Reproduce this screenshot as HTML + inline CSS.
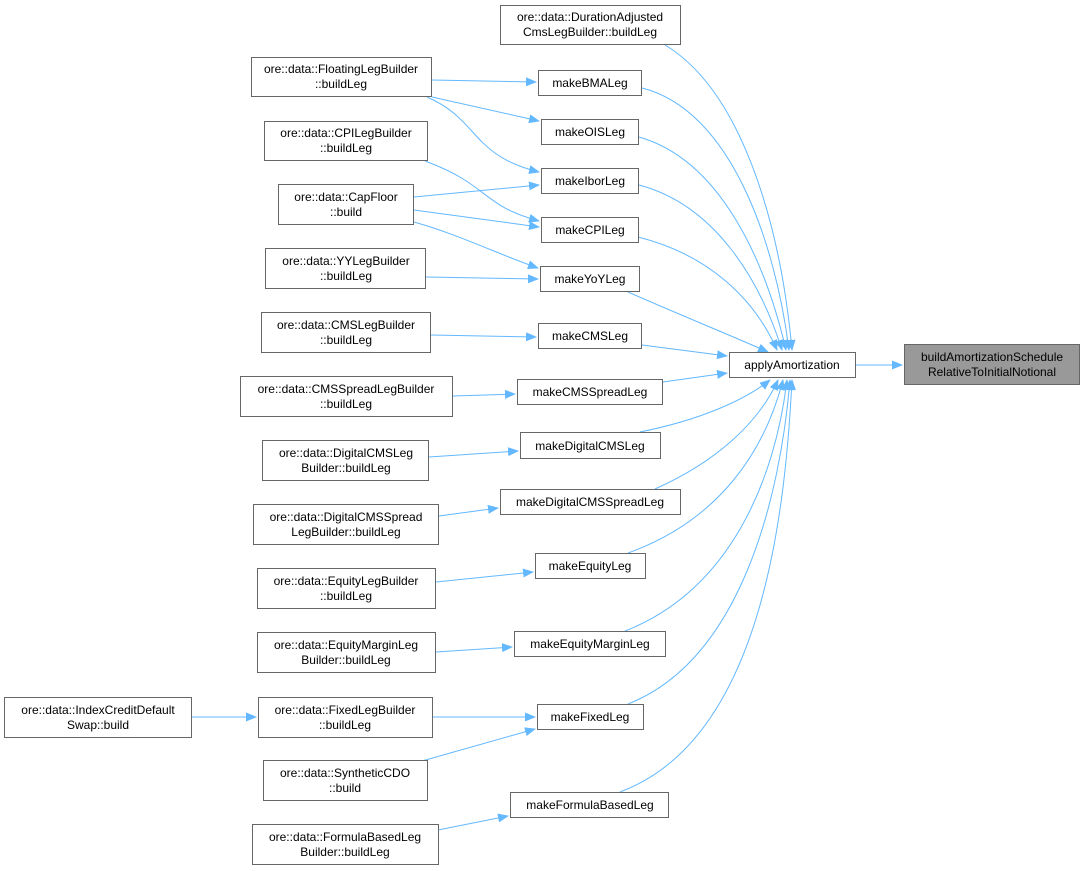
<!DOCTYPE html>
<html><head><meta charset="utf-8"><style>
html,body{margin:0;padding:0;background:#fff;}
svg{display:block;}
text{font-family:"Liberation Sans",Arial,sans-serif;font-size:12px;fill:#000;}
.n{fill:#fff;stroke:#666;stroke-width:1;}
.e{fill:none;stroke:#63b8ff;stroke-width:1;}
</style></head><body>
<svg width="1085" height="871" viewBox="0 0 1085 871" xmlns="http://www.w3.org/2000/svg">
<defs><marker id="a" markerWidth="11" markerHeight="9" refX="10" refY="4.5" orient="auto" markerUnits="userSpaceOnUse"><polygon points="0,0 11,4.5 0,9" fill="#63b8ff"/></marker></defs>
<g class="e" marker-end="url(#a)">
<path d="M856,365 L902,365"/>
<path d="M665,45 C740,90 780,220 792,350"/>
<path d="M642,88 C730,110 775,240 789,350"/>
<path d="M639,137 C720,160 765,260 786,350"/>
<path d="M639,185 C715,205 760,280 782,350"/>
<path d="M638,237 C710,255 755,300 777,350"/>
<path d="M628,292 C680,315 730,335 768,352"/>
<path d="M642,345 L727,356"/>
<path d="M663,382 L727,373"/>
<path d="M640,432 C700,420 745,400 770,380"/>
<path d="M655,489 C720,460 760,420 778,380"/>
<path d="M628,553 C720,520 765,450 783,380"/>
<path d="M625,631 C730,590 775,480 787,380"/>
<path d="M628,704 C740,660 780,500 790,380"/>
<path d="M620,792 C760,740 785,520 792,380"/>
<path d="M432,80 L536,82"/>
<path d="M432,97 L539,121"/>
<path d="M427,97 C480,120 470,155 539,172"/>
<path d="M425,161 C490,185 480,205 539,221"/>
<path d="M414,197 L539,185"/>
<path d="M414,210 L539,227"/>
<path d="M414,222 C460,235 500,255 538,268"/>
<path d="M426,277 L538,279"/>
<path d="M431,335 L536,337"/>
<path d="M453,396 L515,394"/>
<path d="M429,457 L518,451"/>
<path d="M439,516 L498,508"/>
<path d="M436,582 L533,572"/>
<path d="M436,652 L512,647"/>
<path d="M432,717 L535,717"/>
<path d="M422,761 L535,729"/>
<path d="M438,830 L508,816"/>
<path d="M191,717 L256,717"/>
</g>
<rect x="904.5" y="344.5" width="175" height="40" fill="#999" stroke="#666"/>
<text x="992" y="361" text-anchor="middle">buildAmortizationSchedule</text>
<text x="992" y="376" text-anchor="middle">RelativeToInitialNotional</text>
<rect class="n" x="729.5" y="352.5" width="126" height="25"/><text x="792" y="369" text-anchor="middle">applyAmortization</text>
<rect class="n" x="500.5" y="5.5" width="180" height="39"/><text x="590" y="21" text-anchor="middle">ore::data::DurationAdjusted</text><text x="590" y="36" text-anchor="middle">CmsLegBuilder::buildLeg</text>
<rect class="n" x="538.5" y="70.5" width="103" height="25"/><text x="590" y="87" text-anchor="middle">makeBMALeg</text>
<rect class="n" x="541.5" y="119.5" width="97" height="25"/><text x="590" y="136" text-anchor="middle">makeOISLeg</text>
<rect class="n" x="541.5" y="168.5" width="97" height="25"/><text x="590" y="185" text-anchor="middle">makeIborLeg</text>
<rect class="n" x="541.5" y="217.5" width="97" height="25"/><text x="590" y="234" text-anchor="middle">makeCPILeg</text>
<rect class="n" x="540.5" y="266.5" width="99" height="25"/><text x="590" y="283" text-anchor="middle">makeYoYLeg</text>
<rect class="n" x="538.5" y="323.5" width="103" height="25"/><text x="590" y="340" text-anchor="middle">makeCMSLeg</text>
<rect class="n" x="517.5" y="379.5" width="145" height="25"/><text x="590" y="396" text-anchor="middle">makeCMSSpreadLeg</text>
<rect class="n" x="520.5" y="432.5" width="140" height="26"/><text x="590" y="450" text-anchor="middle">makeDigitalCMSLeg</text>
<rect class="n" x="500.5" y="489.5" width="180" height="25"/><text x="590" y="506" text-anchor="middle">makeDigitalCMSSpreadLeg</text>
<rect class="n" x="535.5" y="553.5" width="110" height="25"/><text x="590" y="570" text-anchor="middle">makeEquityLeg</text>
<rect class="n" x="514.5" y="631.5" width="151" height="25"/><text x="590" y="648" text-anchor="middle">makeEquityMarginLeg</text>
<rect class="n" x="537.5" y="704.5" width="106" height="25"/><text x="590" y="721" text-anchor="middle">makeFixedLeg</text>
<rect class="n" x="510.5" y="792.5" width="158" height="25"/><text x="590" y="809" text-anchor="middle">makeFormulaBasedLeg</text>
<rect class="n" x="251.5" y="57.5" width="180" height="39"/><text x="341" y="73" text-anchor="middle">ore::data::FloatingLegBuilder</text><text x="341" y="88" text-anchor="middle">::buildLeg</text>
<rect class="n" x="264.5" y="121.5" width="163" height="39"/><text x="346" y="137" text-anchor="middle">ore::data::CPILegBuilder</text><text x="346" y="152" text-anchor="middle">::buildLeg</text>
<rect class="n" x="278.5" y="184.5" width="135" height="40"/><text x="346" y="201" text-anchor="middle">ore::data::CapFloor</text><text x="346" y="216" text-anchor="middle">::build</text>
<rect class="n" x="265.5" y="248.5" width="160" height="40"/><text x="346" y="265" text-anchor="middle">ore::data::YYLegBuilder</text><text x="346" y="280" text-anchor="middle">::buildLeg</text>
<rect class="n" x="261.5" y="312.5" width="169" height="40"/><text x="346" y="329" text-anchor="middle">ore::data::CMSLegBuilder</text><text x="346" y="344" text-anchor="middle">::buildLeg</text>
<rect class="n" x="240.5" y="376.5" width="212" height="40"/><text x="346" y="393" text-anchor="middle">ore::data::CMSSpreadLegBuilder</text><text x="346" y="408" text-anchor="middle">::buildLeg</text>
<rect class="n" x="262.5" y="440.5" width="166" height="40"/><text x="346" y="457" text-anchor="middle">ore::data::DigitalCMSLeg</text><text x="346" y="472" text-anchor="middle">Builder::buildLeg</text>
<rect class="n" x="253.5" y="504.5" width="185" height="40"/><text x="346" y="521" text-anchor="middle">ore::data::DigitalCMSSpread</text><text x="346" y="536" text-anchor="middle">LegBuilder::buildLeg</text>
<rect class="n" x="257.5" y="568.5" width="178" height="40"/><text x="346" y="585" text-anchor="middle">ore::data::EquityLegBuilder</text><text x="346" y="600" text-anchor="middle">::buildLeg</text>
<rect class="n" x="257.5" y="632.5" width="178" height="40"/><text x="346" y="649" text-anchor="middle">ore::data::EquityMarginLeg</text><text x="346" y="664" text-anchor="middle">Builder::buildLeg</text>
<rect class="n" x="258.5" y="697.5" width="174" height="40"/><text x="345" y="714" text-anchor="middle">ore::data::FixedLegBuilder</text><text x="345" y="729" text-anchor="middle">::buildLeg</text>
<rect class="n" x="263.5" y="760.5" width="164" height="40"/><text x="345" y="777" text-anchor="middle">ore::data::SyntheticCDO</text><text x="345" y="792" text-anchor="middle">::build</text>
<rect class="n" x="252.5" y="824.5" width="186" height="40"/><text x="345" y="841" text-anchor="middle">ore::data::FormulaBasedLeg</text><text x="345" y="856" text-anchor="middle">Builder::buildLeg</text>
<rect class="n" x="4.5" y="697.5" width="187" height="40"/><text x="98" y="714" text-anchor="middle">ore::data::IndexCreditDefault</text><text x="98" y="729" text-anchor="middle">Swap::build</text>
</svg>
</body></html>
